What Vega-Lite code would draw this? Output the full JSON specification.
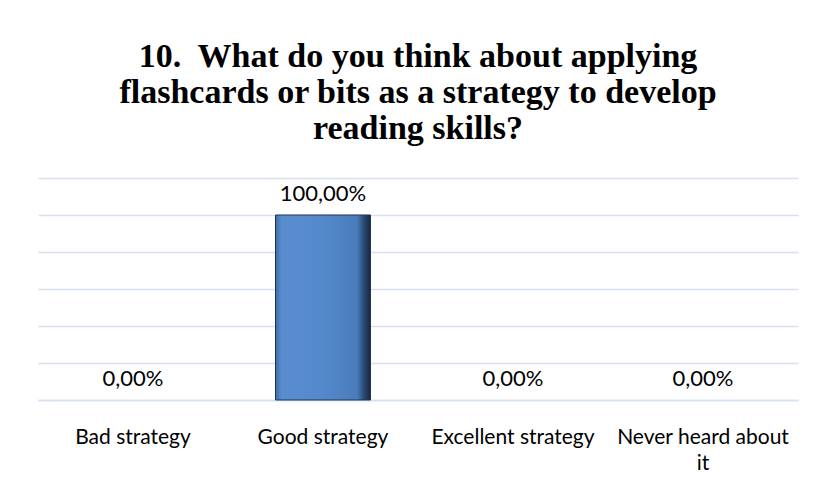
{
  "$schema": "https://vega.github.io/schema/vega-lite/v6.json",
  "width": 760,
  "height": 222,
  "autosize": "none",
  "padding": {"left": 38, "top": 178, "right": 15, "bottom": 84},
  "background": "white",
  "config": {
    "view": {"stroke": null},
    "locale": {"number": {"decimal": ",", "thousands": ".", "grouping": [3], "currency": ["", " €"]}}
  },
  "title": {
    "text": ["10.\u00a0 What do you think about applying", "flashcards or bits as a strategy to develop", "reading skills?"],
    "font": "Liberation Serif",
    "fontSize": 34,
    "fontWeight": "bold",
    "color": "#000000",
    "lineHeight": 36,
    "anchor": "middle",
    "offset": 32
  },
  "data": {
    "values": [
      {"category": "Bad strategy", "value": 0},
      {"category": "Good strategy", "value": 1},
      {"category": "Excellent strategy", "value": 0},
      {"category": "Never heard about it", "value": 0}
    ]
  },
  "encoding": {
    "x": {
      "field": "category",
      "type": "nominal",
      "sort": null,
      "scale": {
        "domain": ["Bad strategy", "Good strategy", "Excellent strategy", "Never heard about it"],
        "paddingInner": 0.5,
        "paddingOuter": 0.25
      },
      "axis": {
        "title": null,
        "labelAngle": 0,
        "labelFont": "Lato",
        "labelFontSize": 21,
        "labelColor": "#000000",
        "labelPadding": 37,
        "labelLineHeight": 26,
        "labelBaseline": "middle",
        "ticks": false,
        "domain": true,
        "domainColor": "#d6e0ee",
        "domainWidth": 1.5,
        "labelExpr": "datum.value == 'Never heard about it' ? ['Never heard about', 'it'] : datum.value"
      }
    },
    "y": {
      "field": "value",
      "type": "quantitative",
      "scale": {"domain": [0, 1.2]},
      "axis": {
        "title": null,
        "labels": false,
        "ticks": false,
        "domain": false,
        "values": [0, 0.2, 0.4, 0.6, 0.8, 1.0, 1.2],
        "gridColor": "#d6e0ee",
        "gridWidth": 1.5
      }
    }
  },
  "layer": [
    {
      "mark": {
        "type": "bar",
        "stroke": "#1f3656",
        "strokeWidth": 1,
        "color": {
          "gradient": "linear",
          "x1": 0, "y1": 0, "x2": 1, "y2": 0,
          "stops": [
            {"offset": 0, "color": "#3d6aa3"},
            {"offset": 0.06, "color": "#5a8dcf"},
            {"offset": 0.5, "color": "#5389cb"},
            {"offset": 0.86, "color": "#4a7cbb"},
            {"offset": 0.93, "color": "#2a4a74"},
            {"offset": 1, "color": "#17283f"}
          ]
        }
      },
      "transform": [{"filter": "datum.value > 0"}]
    },
    {
      "mark": {
        "type": "text",
        "font": "Lato",
        "fontSize": 22,
        "color": "#000000",
        "baseline": "middle",
        "dy": -21
      },
      "encoding": {
        "text": {"field": "value", "type": "quantitative", "format": ".2%"}
      }
    }
  ]
}
